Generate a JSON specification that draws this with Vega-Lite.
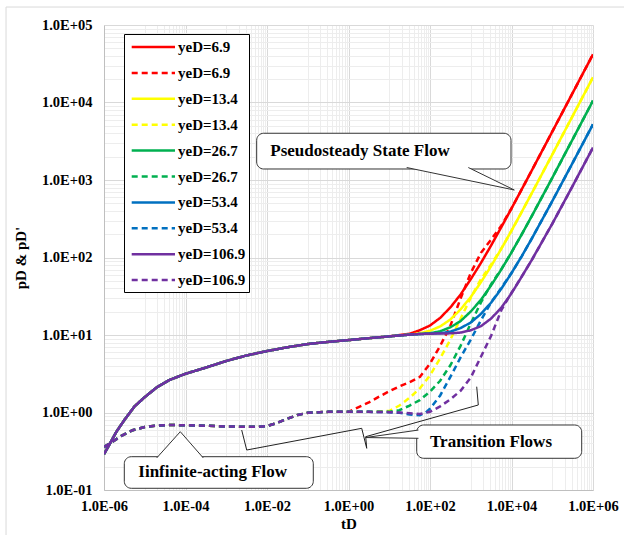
{
"$schema": "https://vega.github.io/schema/vega-lite/v6.json",
"width": 489, "height": 465,
"autosize": "none",
"padding": {"left": 104, "top": 25, "right": 31, "bottom": 45},
"background": "white",
"config": {"view": {"stroke": null}, "font": "Times New Roman, Liberation Serif, serif"},
"datasets": {
"frame": [{"tD": 3.94e-9, "tD2": 8.1e6, "pD": 170600, "pD2": 0.0195}],
"series": [
{"curve":"yeD=6.9 pD","tD":1e-6,"pD":0.29},{"curve":"yeD=6.9 pD","tD":1.4125e-6,"pD":0.40},{"curve":"yeD=6.9 pD","tD":1.995e-6,"pD":0.56},{"curve":"yeD=6.9 pD","tD":3.162e-6,"pD":0.80},{"curve":"yeD=6.9 pD","tD":5.623e-6,"pD":1.2},{"curve":"yeD=6.9 pD","tD":1e-5,"pD":1.58},{"curve":"yeD=6.9 pD","tD":1.995e-5,"pD":2.12},{"curve":"yeD=6.9 pD","tD":3.981e-5,"pD":2.62},{"curve":"yeD=6.9 pD","tD":1e-4,"pD":3.16},{"curve":"yeD=6.9 pD","tD":3.162e-4,"pD":3.8},{"curve":"yeD=6.9 pD","tD":1e-3,"pD":4.62},{"curve":"yeD=6.9 pD","tD":3.162e-3,"pD":5.45},{"curve":"yeD=6.9 pD","tD":0.01,"pD":6.2},{"curve":"yeD=6.9 pD","tD":0.03162,"pD":6.95},{"curve":"yeD=6.9 pD","tD":0.1,"pD":7.65},{"curve":"yeD=6.9 pD","tD":0.3162,"pD":8.15},{"curve":"yeD=6.9 pD","tD":1,"pD":8.6},{"curve":"yeD=6.9 pD","tD":3.162,"pD":9.1},{"curve":"yeD=6.9 pD","tD":10,"pD":9.6},
{"curve":"yeD=6.9 pD","tD":31.62,"pD":10.37},{"curve":"yeD=6.9 pD","tD":56.23,"pD":11.52},{"curve":"yeD=6.9 pD","tD":100,"pD":13.25},{"curve":"yeD=6.9 pD","tD":177.8,"pD":16.63},{"curve":"yeD=6.9 pD","tD":316.2,"pD":22.68},{"curve":"yeD=6.9 pD","tD":562.3,"pD":33.27},{"curve":"yeD=6.9 pD","tD":1000,"pD":52.48},{"curve":"yeD=6.9 pD","tD":1778,"pD":85.09},{"curve":"yeD=6.9 pD","tD":3162,"pD":143.1},{"curve":"yeD=6.9 pD","tD":5623,"pD":246.2},{"curve":"yeD=6.9 pD","tD":10000,"pD":429.6},{"curve":"yeD=6.9 pD","tD":17783,"pD":755.5},{"curve":"yeD=6.9 pD","tD":31623,"pD":1335},{"curve":"yeD=6.9 pD","tD":100000,"pD":4199},{"curve":"yeD=6.9 pD","tD":316228,"pD":13254},{"curve":"yeD=6.9 pD","tD":1000000,"pD":41890},

{"curve":"yeD=6.9 pD'","tD":1e-6,"pD":0.36},{"curve":"yeD=6.9 pD'","tD":1.4125e-6,"pD":0.40},{"curve":"yeD=6.9 pD'","tD":2.512e-6,"pD":0.49},{"curve":"yeD=6.9 pD'","tD":5.012e-6,"pD":0.59},{"curve":"yeD=6.9 pD'","tD":1e-5,"pD":0.65},{"curve":"yeD=6.9 pD'","tD":1.995e-5,"pD":0.68},{"curve":"yeD=6.9 pD'","tD":3.981e-5,"pD":0.69},{"curve":"yeD=6.9 pD'","tD":1e-4,"pD":0.685},{"curve":"yeD=6.9 pD'","tD":3.162e-4,"pD":0.675},{"curve":"yeD=6.9 pD'","tD":1e-3,"pD":0.66},{"curve":"yeD=6.9 pD'","tD":3.162e-3,"pD":0.655},{"curve":"yeD=6.9 pD'","tD":6.31e-3,"pD":0.655},{"curve":"yeD=6.9 pD'","tD":0.01,"pD":0.67},{"curve":"yeD=6.9 pD'","tD":0.01585,"pD":0.72},{"curve":"yeD=6.9 pD'","tD":0.03162,"pD":0.83},{"curve":"yeD=6.9 pD'","tD":0.05623,"pD":0.93},{"curve":"yeD=6.9 pD'","tD":0.1,"pD":0.99},{"curve":"yeD=6.9 pD'","tD":0.3162,"pD":1.02},{"curve":"yeD=6.9 pD'","tD":1,"pD":1.02},
{"curve":"yeD=6.9 pD'","tD":1.778,"pD":1.175},{"curve":"yeD=6.9 pD'","tD":3.162,"pD":1.35},{"curve":"yeD=6.9 pD'","tD":5.623,"pD":1.6},{"curve":"yeD=6.9 pD'","tD":10,"pD":1.88},{"curve":"yeD=6.9 pD'","tD":17.78,"pD":2.17},{"curve":"yeD=6.9 pD'","tD":31.62,"pD":2.455},{"curve":"yeD=6.9 pD'","tD":56.23,"pD":2.88},{"curve":"yeD=6.9 pD'","tD":100,"pD":4.27},{"curve":"yeD=6.9 pD'","tD":177.8,"pD":7.24},{"curve":"yeD=6.9 pD'","tD":316.2,"pD":13.18},{"curve":"yeD=6.9 pD'","tD":562.3,"pD":29.5},{"curve":"yeD=6.9 pD'","tD":1000,"pD":63.1},{"curve":"yeD=6.9 pD'","tD":1778,"pD":114.8},{"curve":"yeD=6.9 pD'","tD":3162,"pD":170},{"curve":"yeD=6.9 pD'","tD":5623,"pD":257},{"curve":"yeD=6.9 pD'","tD":10000,"pD":431},{"curve":"yeD=6.9 pD'","tD":17783,"pD":755.5},{"curve":"yeD=6.9 pD'","tD":31623,"pD":1335},{"curve":"yeD=6.9 pD'","tD":100000,"pD":4199},{"curve":"yeD=6.9 pD'","tD":316228,"pD":13254},{"curve":"yeD=6.9 pD'","tD":1000000,"pD":41890},

{"curve":"yeD=13.4 pD","tD":1e-6,"pD":0.29},{"curve":"yeD=13.4 pD","tD":1.4125e-6,"pD":0.40},{"curve":"yeD=13.4 pD","tD":1.995e-6,"pD":0.56},{"curve":"yeD=13.4 pD","tD":3.162e-6,"pD":0.80},{"curve":"yeD=13.4 pD","tD":5.623e-6,"pD":1.2},{"curve":"yeD=13.4 pD","tD":1e-5,"pD":1.58},{"curve":"yeD=13.4 pD","tD":1.995e-5,"pD":2.12},{"curve":"yeD=13.4 pD","tD":3.981e-5,"pD":2.62},{"curve":"yeD=13.4 pD","tD":1e-4,"pD":3.16},{"curve":"yeD=13.4 pD","tD":3.162e-4,"pD":3.8},{"curve":"yeD=13.4 pD","tD":1e-3,"pD":4.62},{"curve":"yeD=13.4 pD","tD":3.162e-3,"pD":5.45},{"curve":"yeD=13.4 pD","tD":0.01,"pD":6.2},{"curve":"yeD=13.4 pD","tD":0.03162,"pD":6.95},{"curve":"yeD=13.4 pD","tD":0.1,"pD":7.65},{"curve":"yeD=13.4 pD","tD":0.3162,"pD":8.15},{"curve":"yeD=13.4 pD","tD":1,"pD":8.6},{"curve":"yeD=13.4 pD","tD":3.162,"pD":9.1},{"curve":"yeD=13.4 pD","tD":10,"pD":9.6},
{"curve":"yeD=13.4 pD","tD":31.62,"pD":10.13},{"curve":"yeD=13.4 pD","tD":56.23,"pD":10.49},{"curve":"yeD=13.4 pD","tD":100,"pD":11.37},{"curve":"yeD=13.4 pD","tD":177.8,"pD":12.91},{"curve":"yeD=13.4 pD","tD":316.2,"pD":15.85},{"curve":"yeD=13.4 pD","tD":562.3,"pD":21.37},{"curve":"yeD=13.4 pD","tD":1000,"pD":30.9},{"curve":"yeD=13.4 pD","tD":1778,"pD":48.0},{"curve":"yeD=13.4 pD","tD":3162,"pD":77.45},{"curve":"yeD=13.4 pD","tD":5623,"pD":129.55},{"curve":"yeD=13.4 pD","tD":10000,"pD":222.05},{"curve":"yeD=13.4 pD","tD":17783,"pD":386.6},{"curve":"yeD=13.4 pD","tD":31623,"pD":679.2},{"curve":"yeD=13.4 pD","tD":100000,"pD":2124},{"curve":"yeD=13.4 pD","tD":316228,"pD":6694},{"curve":"yeD=13.4 pD","tD":1000000,"pD":21146},

{"curve":"yeD=13.4 pD'","tD":1e-6,"pD":0.36},{"curve":"yeD=13.4 pD'","tD":1.4125e-6,"pD":0.40},{"curve":"yeD=13.4 pD'","tD":2.512e-6,"pD":0.49},{"curve":"yeD=13.4 pD'","tD":5.012e-6,"pD":0.59},{"curve":"yeD=13.4 pD'","tD":1e-5,"pD":0.65},{"curve":"yeD=13.4 pD'","tD":1.995e-5,"pD":0.68},{"curve":"yeD=13.4 pD'","tD":3.981e-5,"pD":0.69},{"curve":"yeD=13.4 pD'","tD":1e-4,"pD":0.685},{"curve":"yeD=13.4 pD'","tD":3.162e-4,"pD":0.675},{"curve":"yeD=13.4 pD'","tD":1e-3,"pD":0.66},{"curve":"yeD=13.4 pD'","tD":3.162e-3,"pD":0.655},{"curve":"yeD=13.4 pD'","tD":6.31e-3,"pD":0.655},{"curve":"yeD=13.4 pD'","tD":0.01,"pD":0.67},{"curve":"yeD=13.4 pD'","tD":0.01585,"pD":0.72},{"curve":"yeD=13.4 pD'","tD":0.03162,"pD":0.83},{"curve":"yeD=13.4 pD'","tD":0.05623,"pD":0.93},{"curve":"yeD=13.4 pD'","tD":0.1,"pD":0.99},{"curve":"yeD=13.4 pD'","tD":0.3162,"pD":1.02},{"curve":"yeD=13.4 pD'","tD":1,"pD":1.02},
{"curve":"yeD=13.4 pD'","tD":3.162,"pD":1.02},{"curve":"yeD=13.4 pD'","tD":10,"pD":1.045},{"curve":"yeD=13.4 pD'","tD":17.78,"pD":1.23},{"curve":"yeD=13.4 pD'","tD":31.62,"pD":1.55},{"curve":"yeD=13.4 pD'","tD":56.23,"pD":2.04},{"curve":"yeD=13.4 pD'","tD":100,"pD":3.02},{"curve":"yeD=13.4 pD'","tD":177.8,"pD":5.01},{"curve":"yeD=13.4 pD'","tD":316.2,"pD":8.71},{"curve":"yeD=13.4 pD'","tD":562.3,"pD":16.2},{"curve":"yeD=13.4 pD'","tD":1000,"pD":30.2},{"curve":"yeD=13.4 pD'","tD":1778,"pD":52.5},{"curve":"yeD=13.4 pD'","tD":3162,"pD":81.3},{"curve":"yeD=13.4 pD'","tD":5623,"pD":130.3},{"curve":"yeD=13.4 pD'","tD":10000,"pD":222.05},{"curve":"yeD=13.4 pD'","tD":17783,"pD":386.6},{"curve":"yeD=13.4 pD'","tD":31623,"pD":679.2},{"curve":"yeD=13.4 pD'","tD":100000,"pD":2124},{"curve":"yeD=13.4 pD'","tD":316228,"pD":6694},{"curve":"yeD=13.4 pD'","tD":1000000,"pD":21146},

{"curve":"yeD=26.7 pD","tD":1e-6,"pD":0.29},{"curve":"yeD=26.7 pD","tD":1.4125e-6,"pD":0.40},{"curve":"yeD=26.7 pD","tD":1.995e-6,"pD":0.56},{"curve":"yeD=26.7 pD","tD":3.162e-6,"pD":0.80},{"curve":"yeD=26.7 pD","tD":5.623e-6,"pD":1.2},{"curve":"yeD=26.7 pD","tD":1e-5,"pD":1.58},{"curve":"yeD=26.7 pD","tD":1.995e-5,"pD":2.12},{"curve":"yeD=26.7 pD","tD":3.981e-5,"pD":2.62},{"curve":"yeD=26.7 pD","tD":1e-4,"pD":3.16},{"curve":"yeD=26.7 pD","tD":3.162e-4,"pD":3.8},{"curve":"yeD=26.7 pD","tD":1e-3,"pD":4.62},{"curve":"yeD=26.7 pD","tD":3.162e-3,"pD":5.45},{"curve":"yeD=26.7 pD","tD":0.01,"pD":6.2},{"curve":"yeD=26.7 pD","tD":0.03162,"pD":6.95},{"curve":"yeD=26.7 pD","tD":0.1,"pD":7.65},{"curve":"yeD=26.7 pD","tD":0.3162,"pD":8.15},{"curve":"yeD=26.7 pD","tD":1,"pD":8.6},{"curve":"yeD=26.7 pD","tD":3.162,"pD":9.1},{"curve":"yeD=26.7 pD","tD":10,"pD":9.6},
{"curve":"yeD=26.7 pD","tD":31.62,"pD":10.1},{"curve":"yeD=26.7 pD","tD":56.23,"pD":10.31},{"curve":"yeD=26.7 pD","tD":100,"pD":10.52},{"curve":"yeD=26.7 pD","tD":177.8,"pD":11.18},{"curve":"yeD=26.7 pD","tD":316.2,"pD":12.57},{"curve":"yeD=26.7 pD","tD":562.3,"pD":15.12},{"curve":"yeD=26.7 pD","tD":1000,"pD":20.09},{"curve":"yeD=26.7 pD","tD":1778,"pD":28.42},{"curve":"yeD=26.7 pD","tD":3162,"pD":43.65},{"curve":"yeD=26.7 pD","tD":5623,"pD":70.0},{"curve":"yeD=26.7 pD","tD":10000,"pD":116.15},{"curve":"yeD=26.7 pD","tD":17783,"pD":198.3},{"curve":"yeD=26.7 pD","tD":31623,"pD":344.25},{"curve":"yeD=26.7 pD","tD":100000,"pD":1065},{"curve":"yeD=26.7 pD","tD":316228,"pD":3345},{"curve":"yeD=26.7 pD","tD":1000000,"pD":10555},

{"curve":"yeD=26.7 pD'","tD":1e-6,"pD":0.36},{"curve":"yeD=26.7 pD'","tD":1.4125e-6,"pD":0.40},{"curve":"yeD=26.7 pD'","tD":2.512e-6,"pD":0.49},{"curve":"yeD=26.7 pD'","tD":5.012e-6,"pD":0.59},{"curve":"yeD=26.7 pD'","tD":1e-5,"pD":0.65},{"curve":"yeD=26.7 pD'","tD":1.995e-5,"pD":0.68},{"curve":"yeD=26.7 pD'","tD":3.981e-5,"pD":0.69},{"curve":"yeD=26.7 pD'","tD":1e-4,"pD":0.685},{"curve":"yeD=26.7 pD'","tD":3.162e-4,"pD":0.675},{"curve":"yeD=26.7 pD'","tD":1e-3,"pD":0.66},{"curve":"yeD=26.7 pD'","tD":3.162e-3,"pD":0.655},{"curve":"yeD=26.7 pD'","tD":6.31e-3,"pD":0.655},{"curve":"yeD=26.7 pD'","tD":0.01,"pD":0.67},{"curve":"yeD=26.7 pD'","tD":0.01585,"pD":0.72},{"curve":"yeD=26.7 pD'","tD":0.03162,"pD":0.83},{"curve":"yeD=26.7 pD'","tD":0.05623,"pD":0.93},{"curve":"yeD=26.7 pD'","tD":0.1,"pD":0.99},{"curve":"yeD=26.7 pD'","tD":0.3162,"pD":1.02},{"curve":"yeD=26.7 pD'","tD":1,"pD":1.02},
{"curve":"yeD=26.7 pD'","tD":3.162,"pD":1.02},{"curve":"yeD=26.7 pD'","tD":10,"pD":1.02},{"curve":"yeD=26.7 pD'","tD":17.78,"pD":1.07},{"curve":"yeD=26.7 pD'","tD":31.62,"pD":1.23},{"curve":"yeD=26.7 pD'","tD":56.23,"pD":1.445},{"curve":"yeD=26.7 pD'","tD":100,"pD":1.86},{"curve":"yeD=26.7 pD'","tD":177.8,"pD":2.57},{"curve":"yeD=26.7 pD'","tD":316.2,"pD":4.07},{"curve":"yeD=26.7 pD'","tD":562.3,"pD":7.24},{"curve":"yeD=26.7 pD'","tD":1000,"pD":14.1},{"curve":"yeD=26.7 pD'","tD":1778,"pD":26.3},{"curve":"yeD=26.7 pD'","tD":3162,"pD":45.2},{"curve":"yeD=26.7 pD'","tD":5623,"pD":70.8},{"curve":"yeD=26.7 pD'","tD":10000,"pD":116.15},{"curve":"yeD=26.7 pD'","tD":17783,"pD":198.3},{"curve":"yeD=26.7 pD'","tD":31623,"pD":344.25},{"curve":"yeD=26.7 pD'","tD":100000,"pD":1065},{"curve":"yeD=26.7 pD'","tD":316228,"pD":3345},{"curve":"yeD=26.7 pD'","tD":1000000,"pD":10555},

{"curve":"yeD=53.4 pD","tD":1e-6,"pD":0.29},{"curve":"yeD=53.4 pD","tD":1.4125e-6,"pD":0.40},{"curve":"yeD=53.4 pD","tD":1.995e-6,"pD":0.56},{"curve":"yeD=53.4 pD","tD":3.162e-6,"pD":0.80},{"curve":"yeD=53.4 pD","tD":5.623e-6,"pD":1.2},{"curve":"yeD=53.4 pD","tD":1e-5,"pD":1.58},{"curve":"yeD=53.4 pD","tD":1.995e-5,"pD":2.12},{"curve":"yeD=53.4 pD","tD":3.981e-5,"pD":2.62},{"curve":"yeD=53.4 pD","tD":1e-4,"pD":3.16},{"curve":"yeD=53.4 pD","tD":3.162e-4,"pD":3.8},{"curve":"yeD=53.4 pD","tD":1e-3,"pD":4.62},{"curve":"yeD=53.4 pD","tD":3.162e-3,"pD":5.45},{"curve":"yeD=53.4 pD","tD":0.01,"pD":6.2},{"curve":"yeD=53.4 pD","tD":0.03162,"pD":6.95},{"curve":"yeD=53.4 pD","tD":0.1,"pD":7.65},{"curve":"yeD=53.4 pD","tD":0.3162,"pD":8.15},{"curve":"yeD=53.4 pD","tD":1,"pD":8.6},{"curve":"yeD=53.4 pD","tD":3.162,"pD":9.1},{"curve":"yeD=53.4 pD","tD":10,"pD":9.6},
{"curve":"yeD=53.4 pD","tD":31.62,"pD":10.1},{"curve":"yeD=53.4 pD","tD":56.23,"pD":10.3},{"curve":"yeD=53.4 pD","tD":100,"pD":10.41},{"curve":"yeD=53.4 pD","tD":177.8,"pD":10.53},{"curve":"yeD=53.4 pD","tD":316.2,"pD":11.05},{"curve":"yeD=53.4 pD","tD":562.3,"pD":12.28},{"curve":"yeD=53.4 pD","tD":1000,"pD":14.47},{"curve":"yeD=53.4 pD","tD":1778,"pD":18.7},{"curve":"yeD=53.4 pD","tD":3162,"pD":26.18},{"curve":"yeD=53.4 pD","tD":5623,"pD":39.5},{"curve":"yeD=53.4 pD","tD":10000,"pD":62.99},{"curve":"yeD=53.4 pD","tD":17783,"pD":103.7},{"curve":"yeD=53.4 pD","tD":31623,"pD":176.05},{"curve":"yeD=53.4 pD","tD":100000,"pD":533.4},{"curve":"yeD=53.4 pD","tD":316228,"pD":1663},{"curve":"yeD=53.4 pD","tD":1000000,"pD":5235},

{"curve":"yeD=53.4 pD'","tD":1e-6,"pD":0.36},{"curve":"yeD=53.4 pD'","tD":1.4125e-6,"pD":0.40},{"curve":"yeD=53.4 pD'","tD":2.512e-6,"pD":0.49},{"curve":"yeD=53.4 pD'","tD":5.012e-6,"pD":0.59},{"curve":"yeD=53.4 pD'","tD":1e-5,"pD":0.65},{"curve":"yeD=53.4 pD'","tD":1.995e-5,"pD":0.68},{"curve":"yeD=53.4 pD'","tD":3.981e-5,"pD":0.69},{"curve":"yeD=53.4 pD'","tD":1e-4,"pD":0.685},{"curve":"yeD=53.4 pD'","tD":3.162e-4,"pD":0.675},{"curve":"yeD=53.4 pD'","tD":1e-3,"pD":0.66},{"curve":"yeD=53.4 pD'","tD":3.162e-3,"pD":0.655},{"curve":"yeD=53.4 pD'","tD":6.31e-3,"pD":0.655},{"curve":"yeD=53.4 pD'","tD":0.01,"pD":0.67},{"curve":"yeD=53.4 pD'","tD":0.01585,"pD":0.72},{"curve":"yeD=53.4 pD'","tD":0.03162,"pD":0.83},{"curve":"yeD=53.4 pD'","tD":0.05623,"pD":0.93},{"curve":"yeD=53.4 pD'","tD":0.1,"pD":0.99},{"curve":"yeD=53.4 pD'","tD":0.3162,"pD":1.02},{"curve":"yeD=53.4 pD'","tD":1,"pD":1.02},
{"curve":"yeD=53.4 pD'","tD":3.162,"pD":1.02},{"curve":"yeD=53.4 pD'","tD":10,"pD":1.01},{"curve":"yeD=53.4 pD'","tD":17.78,"pD":0.99},{"curve":"yeD=53.4 pD'","tD":31.62,"pD":0.944},{"curve":"yeD=53.4 pD'","tD":56.23,"pD":0.923},{"curve":"yeD=53.4 pD'","tD":79.43,"pD":1.0},{"curve":"yeD=53.4 pD'","tD":100,"pD":1.12},{"curve":"yeD=53.4 pD'","tD":177.8,"pD":1.66},{"curve":"yeD=53.4 pD'","tD":316.2,"pD":2.88},{"curve":"yeD=53.4 pD'","tD":562.3,"pD":5.13},{"curve":"yeD=53.4 pD'","tD":1000,"pD":8.71},{"curve":"yeD=53.4 pD'","tD":1778,"pD":15.5},{"curve":"yeD=53.4 pD'","tD":3162,"pD":26.3},{"curve":"yeD=53.4 pD'","tD":5623,"pD":40.7},{"curve":"yeD=53.4 pD'","tD":10000,"pD":62.99},{"curve":"yeD=53.4 pD'","tD":17783,"pD":103.7},{"curve":"yeD=53.4 pD'","tD":31623,"pD":176.05},{"curve":"yeD=53.4 pD'","tD":100000,"pD":533.4},{"curve":"yeD=53.4 pD'","tD":316228,"pD":1663},{"curve":"yeD=53.4 pD'","tD":1000000,"pD":5235},

{"curve":"yeD=106.9 pD","tD":1e-6,"pD":0.29},{"curve":"yeD=106.9 pD","tD":1.4125e-6,"pD":0.40},{"curve":"yeD=106.9 pD","tD":1.995e-6,"pD":0.56},{"curve":"yeD=106.9 pD","tD":3.162e-6,"pD":0.80},{"curve":"yeD=106.9 pD","tD":5.623e-6,"pD":1.2},{"curve":"yeD=106.9 pD","tD":1e-5,"pD":1.58},{"curve":"yeD=106.9 pD","tD":1.995e-5,"pD":2.12},{"curve":"yeD=106.9 pD","tD":3.981e-5,"pD":2.62},{"curve":"yeD=106.9 pD","tD":1e-4,"pD":3.16},{"curve":"yeD=106.9 pD","tD":3.162e-4,"pD":3.8},{"curve":"yeD=106.9 pD","tD":1e-3,"pD":4.62},{"curve":"yeD=106.9 pD","tD":3.162e-3,"pD":5.45},{"curve":"yeD=106.9 pD","tD":0.01,"pD":6.2},{"curve":"yeD=106.9 pD","tD":0.03162,"pD":6.95},{"curve":"yeD=106.9 pD","tD":0.1,"pD":7.65},{"curve":"yeD=106.9 pD","tD":0.3162,"pD":8.15},{"curve":"yeD=106.9 pD","tD":1,"pD":8.6},{"curve":"yeD=106.9 pD","tD":3.162,"pD":9.1},{"curve":"yeD=106.9 pD","tD":10,"pD":9.6},
{"curve":"yeD=106.9 pD","tD":31.62,"pD":10.1},{"curve":"yeD=106.9 pD","tD":56.23,"pD":10.3},{"curve":"yeD=106.9 pD","tD":100,"pD":10.4},{"curve":"yeD=106.9 pD","tD":177.8,"pD":10.45},{"curve":"yeD=106.9 pD","tD":316.2,"pD":10.5},{"curve":"yeD=106.9 pD","tD":562.3,"pD":10.75},{"curve":"yeD=106.9 pD","tD":1000,"pD":11.5},{"curve":"yeD=106.9 pD","tD":1778,"pD":13.0},{"curve":"yeD=106.9 pD","tD":3162,"pD":16.3},{"curve":"yeD=106.9 pD","tD":5623,"pD":22.5},{"curve":"yeD=106.9 pD","tD":10000,"pD":34.5},{"curve":"yeD=106.9 pD","tD":17783,"pD":56.5},{"curve":"yeD=106.9 pD","tD":31623,"pD":93.45},{"curve":"yeD=106.9 pD","tD":100000,"pD":272.2},{"curve":"yeD=106.9 pD","tD":316228,"pD":837.1},{"curve":"yeD=106.9 pD","tD":1000000,"pD":2623},

{"curve":"yeD=106.9 pD'","tD":1e-6,"pD":0.36},{"curve":"yeD=106.9 pD'","tD":1.4125e-6,"pD":0.40},{"curve":"yeD=106.9 pD'","tD":2.512e-6,"pD":0.49},{"curve":"yeD=106.9 pD'","tD":5.012e-6,"pD":0.59},{"curve":"yeD=106.9 pD'","tD":1e-5,"pD":0.65},{"curve":"yeD=106.9 pD'","tD":1.995e-5,"pD":0.68},{"curve":"yeD=106.9 pD'","tD":3.981e-5,"pD":0.69},{"curve":"yeD=106.9 pD'","tD":1e-4,"pD":0.685},{"curve":"yeD=106.9 pD'","tD":3.162e-4,"pD":0.675},{"curve":"yeD=106.9 pD'","tD":1e-3,"pD":0.66},{"curve":"yeD=106.9 pD'","tD":3.162e-3,"pD":0.655},{"curve":"yeD=106.9 pD'","tD":6.31e-3,"pD":0.655},{"curve":"yeD=106.9 pD'","tD":0.01,"pD":0.67},{"curve":"yeD=106.9 pD'","tD":0.01585,"pD":0.72},{"curve":"yeD=106.9 pD'","tD":0.03162,"pD":0.83},{"curve":"yeD=106.9 pD'","tD":0.05623,"pD":0.93},{"curve":"yeD=106.9 pD'","tD":0.1,"pD":0.99},{"curve":"yeD=106.9 pD'","tD":0.3162,"pD":1.02},{"curve":"yeD=106.9 pD'","tD":1,"pD":1.02},
{"curve":"yeD=106.9 pD'","tD":3.162,"pD":1.02},{"curve":"yeD=106.9 pD'","tD":10,"pD":1.01},{"curve":"yeD=106.9 pD'","tD":17.78,"pD":1.0},{"curve":"yeD=106.9 pD'","tD":31.62,"pD":0.977},{"curve":"yeD=106.9 pD'","tD":56.23,"pD":0.955},{"curve":"yeD=106.9 pD'","tD":100,"pD":1.023},{"curve":"yeD=106.9 pD'","tD":177.8,"pD":1.2},{"curve":"yeD=106.9 pD'","tD":316.2,"pD":1.48},{"curve":"yeD=106.9 pD'","tD":562.3,"pD":1.905},{"curve":"yeD=106.9 pD'","tD":1000,"pD":2.82},{"curve":"yeD=106.9 pD'","tD":1778,"pD":5.25},{"curve":"yeD=106.9 pD'","tD":3162,"pD":9.77},{"curve":"yeD=106.9 pD'","tD":5623,"pD":20.9},{"curve":"yeD=106.9 pD'","tD":10000,"pD":35.1},{"curve":"yeD=106.9 pD'","tD":17783,"pD":56.5},{"curve":"yeD=106.9 pD'","tD":31623,"pD":93.45},{"curve":"yeD=106.9 pD'","tD":100000,"pD":272.2},{"curve":"yeD=106.9 pD'","tD":316228,"pD":837.1},{"curve":"yeD=106.9 pD'","tD":1000000,"pD":2623}
],
"brace": [
{"i":1,"tD":2.393e-3,"pD":0.594},{"i":2,"tD":3.177e-3,"pD":0.328},{"i":3,"tD":2.109,"pD":0.625},{"i":4,"tD":2.80,"pD":0.345},{"i":5,"tD":2.642,"pD":0.4875},{"i":6,"tD":1531,"pD":1.25},{"i":7,"tD":1400,"pD":2.153}
],
"boxes": [
{"name":"pss","tD":5.58e-3,"tD2":9727,"pD":4009,"pD2":1387},
{"name":"inf","tD":3.15e-6,"tD2":0.1368,"pD":0.269,"pD2":0.1052},
{"name":"trans","tD":47.2,"tD2":528000,"pD":0.690,"pD2":0.2565}
],
"tails": [
{"name":"pss","i":1,"tD":26.8,"pD":1449},{"name":"pss","i":2,"tD":11720,"pD":743},{"name":"pss","i":3,"tD":871,"pD":1449},
{"name":"inf","i":1,"tD":1.963e-5,"pD":0.259},{"name":"inf","i":2,"tD":7.45e-5,"pD":0.565},{"name":"inf","i":3,"tD":2.735e-4,"pD":0.259},
{"name":"trans","i":1,"tD":52.2,"pD":0.594},{"name":"trans","i":2,"tD":2.64,"pD":0.475},{"name":"trans","i":3,"tD":52.2,"pD":0.4645}
],
"labels": [
{"text":"Pseudosteady State Flow","tD":1.915,"pD":2366},
{"text":"Iinfinite-acting Flow","tD":4.65e-4,"pD":0.1683},
{"text":"Transition Flows","tD":3141,"pD":0.416}
]
},
"layer": [
{
"data": {"name": "series"},
"mark": {"type": "line", "strokeWidth": 2.5, "clip": true},
"encoding": {
"x": {"field": "tD", "type": "quantitative", "scale": {"type": "log", "domain": [1e-6, 1e6], "nice": false},
"axis": {
"title": "tD",
"values": [1e-6,1e-5,2e-5,3e-5,4e-5,5e-5,6e-5,7e-5,8e-5,9e-5,1e-4,1e-3,2e-3,3e-3,4e-3,5e-3,6e-3,7e-3,8e-3,9e-3,1e-2,0.1,0.2,0.3,0.4,0.5,0.6,0.7,0.8,0.9,1,10,20,30,40,50,60,70,80,90,100,1000,2000,3000,4000,5000,6000,7000,8000,9000,10000,100000,200000,300000,400000,500000,600000,700000,800000,900000,1000000],
"labelExpr": "abs(log(datum.value)/LN10/2 - round(log(datum.value)/LN10/2)) < 0.001 ? ('1.0E' + (datum.value < 0.99 ? '-' : '+') + pad(toString(abs(round(log(datum.value)/LN10))), 2, '0', 'left')) : ''",
"grid": true,
"gridColor": {"condition": {"test": "abs(log(datum.value)/LN10/2 - round(log(datum.value)/LN10/2)) < 0.001", "value": "#d9d9d9"}, "value": "#ededed"},
"gridWidth": 1,
"ticks": false, "tickSize": 0,
"domainColor": "#bfbfbf",
"labelFont": "Times New Roman, Liberation Serif, serif", "labelFontWeight": "bold", "labelFontSize": 14.5, "labelColor": "black",
"labelPadding": 9, "labelOverlap": false, "labelBound": false, "labelFlush": false,
"titleFont": "Times New Roman, Liberation Serif, serif", "titleFontWeight": "bold", "titleFontSize": 15, "titleColor": "black", "titlePadding": 4
}},
"y": {"field": "pD", "type": "quantitative", "scale": {"type": "log", "domain": [0.1, 100000], "nice": false},
"axis": {
"title": "pD & pD'",
"values": [0.1,0.2,0.3,0.4,0.5,0.6,0.7,0.8,0.9,1,2,3,4,5,6,7,8,9,10,20,30,40,50,60,70,80,90,100,200,300,400,500,600,700,800,900,1000,2000,3000,4000,5000,6000,7000,8000,9000,10000,20000,30000,40000,50000,60000,70000,80000,90000,100000],
"labelExpr": "abs(log(datum.value)/LN10 - round(log(datum.value)/LN10)) < 0.001 ? ('1.0E' + (datum.value < 0.99 ? '-' : '+') + pad(toString(abs(round(log(datum.value)/LN10))), 2, '0', 'left')) : ''",
"grid": true,
"gridColor": {"condition": {"test": "abs(log(datum.value)/LN10 - round(log(datum.value)/LN10)) < 0.001", "value": "#d9d9d9"}, "value": "#ededed"},
"gridWidth": 1,
"ticks": false, "tickSize": 0,
"domainColor": "#bfbfbf",
"labelFont": "Times New Roman, Liberation Serif, serif", "labelFontWeight": "bold", "labelFontSize": 14.5, "labelColor": "black",
"labelPadding": 12, "labelOverlap": false, "labelBound": false, "labelFlush": false,
"titleFont": "Times New Roman, Liberation Serif, serif", "titleFontWeight": "bold", "titleFontSize": 15, "titleColor": "black", "titlePadding": 13
}},
"color": {"field": "curve", "type": "nominal",
"scale": {"domain": ["yeD=6.9 pD","yeD=6.9 pD'","yeD=13.4 pD","yeD=13.4 pD'","yeD=26.7 pD","yeD=26.7 pD'","yeD=53.4 pD","yeD=53.4 pD'","yeD=106.9 pD","yeD=106.9 pD'"],
"range": ["#ff0000","#ff0000","#ffff00","#ffff00","#00b050","#00b050","#0070c0","#0070c0","#7030a0","#7030a0"]},
"legend": {"orient": "none", "legendX": 20, "legendY": 9, "title": null, "strokeColor": "black", "fillColor": "white", "padding": 3,
"symbolType": "M-2.5,0H2.5", "symbolSize": 300, "symbolStrokeWidth": 2.5, "symbolOffset": 16.35, "labelOffset": 14.65, "rowPadding": 7.9,
"labelFont": "Times New Roman, Liberation Serif, serif", "labelFontWeight": "bold", "labelFontSize": 15, "labelColor": "black", "labelLimit": 200,
"labelExpr": "split(datum.label, ' ')[0]"}},
"strokeDash": {"field": "curve", "type": "nominal",
"scale": {"domain": ["yeD=6.9 pD","yeD=6.9 pD'","yeD=13.4 pD","yeD=13.4 pD'","yeD=26.7 pD","yeD=26.7 pD'","yeD=53.4 pD","yeD=53.4 pD'","yeD=106.9 pD","yeD=106.9 pD'"],
"range": [[1,0],[6,4],[1,0],[6,4],[1,0],[6,4],[1,0],[6,4],[1,0],[6,4]]},
"legend": {"orient": "none", "legendX": 20, "legendY": 9, "title": null, "strokeColor": "black", "fillColor": "white", "padding": 3,
"symbolType": "M-2.5,0H2.5", "symbolSize": 300, "symbolStrokeWidth": 2.5, "symbolOffset": 16.35, "labelOffset": 14.65, "rowPadding": 7.9,
"labelFont": "Times New Roman, Liberation Serif, serif", "labelFontWeight": "bold", "labelFontSize": 15, "labelColor": "black", "labelLimit": 200,
"labelExpr": "split(datum.label, ' ')[0]"}}
}
},
{
"data": {"name": "frame"},
"mark": {"type": "rect", "fill": null, "stroke": "#d9d9d9", "strokeWidth": 1, "clip": false},
"encoding": {
"x": {"field": "tD", "type": "quantitative"},
"x2": {"field": "tD2"},
"y": {"field": "pD", "type": "quantitative"},
"y2": {"field": "pD2"}
}
},
{
"data": {"name": "brace"},
"mark": {"type": "line", "stroke": "#222222", "strokeWidth": 1, "interpolate": "linear"},
"encoding": {
"x": {"field": "tD", "type": "quantitative"},
"y": {"field": "pD", "type": "quantitative"},
"order": {"field": "i", "type": "quantitative"}
}
},
{
"data": {"name": "boxes"},
"mark": {"type": "rect", "fill": "white", "stroke": "#333333", "strokeWidth": 1, "cornerRadius": 7},
"encoding": {
"x": {"field": "tD", "type": "quantitative"},
"x2": {"field": "tD2"},
"y": {"field": "pD", "type": "quantitative"},
"y2": {"field": "pD2"}
}
},
{
"data": {"name": "tails"},
"mark": {"type": "line", "fill": "white", "stroke": "#333333", "strokeWidth": 1, "interpolate": "linear"},
"encoding": {
"x": {"field": "tD", "type": "quantitative"},
"y": {"field": "pD", "type": "quantitative"},
"detail": {"field": "name", "type": "nominal"},
"order": {"field": "i", "type": "quantitative"}
}
},
{
"data": {"name": "labels"},
"mark": {"type": "text", "font": "Times New Roman, Liberation Serif, serif", "fontWeight": "bold", "fontSize": 17, "align": "center", "baseline": "middle", "color": "black"},
"encoding": {
"x": {"field": "tD", "type": "quantitative"},
"y": {"field": "pD", "type": "quantitative"},
"text": {"field": "text", "type": "nominal"}
}
}
]
}
